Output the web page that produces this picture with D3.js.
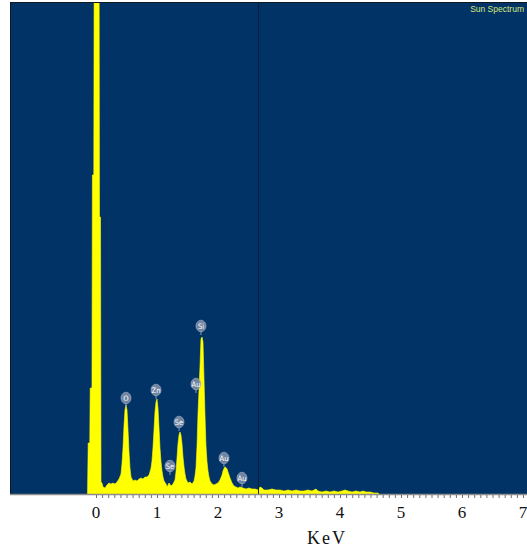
<!DOCTYPE html>
<html>
<head>
<meta charset="utf-8">
<script src="https://cdn.jsdelivr.net/npm/d3@7"></script>
<style>
  body { margin: 0; background: #ffffff; }
  svg { display: block; }
</style>
</head>
<body>
<div id="chart"></div>
<script>
// spectrum (energy in keV, counts)
var energy = [-0.139, -0.128, -0.102, -0.095, -0.066, -0.059, -0.036, -0.028, 0.049, 0.057, 0.074, 0.082,
  0.098, 0.115, 0.148, 0.180, 0.213, 0.246, 0.279, 0.311, 0.344, 0.377,
  0.410, 0.426, 0.443, 0.459, 0.475, 0.492, 0.508, 0.525, 0.541, 0.557, 0.574, 0.607, 0.639, 0.672, 0.705, 0.738, 0.770, 0.803, 0.836, 0.869,
  0.885, 0.902, 0.918, 0.934, 0.951, 0.967, 0.984, 1.000, 1.016, 1.033, 1.049, 1.066, 1.082, 1.098, 1.115, 1.148, 1.164, 1.197, 1.230, 1.262,
  1.295, 1.311, 1.328, 1.344, 1.361, 1.377, 1.393, 1.410, 1.426, 1.443, 1.459, 1.475, 1.508, 1.541, 1.574,
  1.607, 1.623, 1.639, 1.656, 1.672, 1.689, 1.705, 1.721, 1.738, 1.754, 1.770, 1.787, 1.803, 1.820, 1.836, 1.852, 1.869, 1.902, 1.934, 1.967,
  2.000, 2.033, 2.066, 2.082, 2.098, 2.115, 2.131, 2.148, 2.164, 2.197, 2.230, 2.262, 2.295, 2.328, 2.361, 2.410, 2.459, 2.508, 2.557, 2.607,
  2.656, 2.689, 2.721, 2.754, 2.820, 2.885, 2.951, 3.016, 3.082, 3.148, 3.213, 3.279, 3.344, 3.410, 3.475, 3.541, 3.607, 3.639, 3.705, 3.770,
  3.836, 3.902, 3.967, 4.033, 4.082, 4.131, 4.197, 4.262, 4.328, 4.377, 4.426, 4.492, 4.557, 4.623, 4.639];

var counts = [0, 255, 255, 530, 530, 1595, 1595, 3000, 3000, 1385, 1385, 60,
  55, 35, 30, 45, 55, 50, 55, 50, 60, 75,
  100, 150, 230, 340, 420, 445, 420, 320, 210, 130, 85, 65, 70, 65, 75, 80, 75, 85, 85, 95,
  110, 130, 165, 230, 320, 410, 460, 475, 430, 330, 230, 160, 115, 85, 65, 50, 35, 55, 40, 50,
  70, 110, 180, 250, 295, 310, 295, 250, 185, 135, 100, 75, 55, 60, 50,
  65, 90, 130, 240, 400, 520, 640, 775, 785, 760, 580, 390, 240, 160, 115, 85, 65, 50, 45, 50,
  55, 70, 95, 115, 128, 135, 132, 125, 110, 80, 55, 40, 35, 30, 35, 30, 25, 30, 25, 25,
  20, 35, 30, 20, 20, 25, 20, 20, 15, 20, 15, 20, 15, 15, 20, 15, 25, 15, 10, 15,
  10, 15, 10, 15, 20, 15, 10, 15, 10, 15, 10, 10, 5, 5, 0];

// element markers
var peakNames = ["O", "Zn", "Se", "Se", "Si", "Au", "Au", "Au"];
var peakKeV = [0.492, 0.984, 1.361, 1.213, 1.721, 1.639, 2.098, 2.393];
var peakCounts = [480, 520, 360, 140, 840, 550, 180, 80];

var tickLabels = [0, 1, 2, 3, 4, 5, 6, 7];
var markerKeV = 2.656;
var spectrumName = "Sun Spectrum";
var axisTitle = "KeV";

var width = 527, height = 552;
var plot = { left: 10, top: 2, right: 527, bottom: 494 };

var svg = d3.select("#chart").append("svg")
    .attr("width", width)
    .attr("height", height);

var x = d3.scaleLinear()
    .domain([0, 7])
    .range([96, 96 + 7 * 61]);

var y = d3.scaleLinear()
    .domain([0, 2460])
    .range([plot.bottom, plot.top]);

svg.append("clipPath")
    .attr("id", "clip")
    .append("rect")
    .attr("x", plot.left)
    .attr("y", plot.top)
    .attr("width", plot.right - plot.left)
    .attr("height", plot.bottom - plot.top);

// background
svg.append("rect")
    .attr("x", plot.left)
    .attr("y", plot.top)
    .attr("width", plot.right - plot.left)
    .attr("height", plot.bottom - plot.top)
    .attr("fill", "#023366");

var area_g = svg.append("g").attr("clip-path", "url(#clip)");

var data = energy.map(function (e, i) { return { e: e, c: counts[i] }; });

var area = d3.area()
    .x(function (d) { return x(d.e); })
    .y0(y(0))
    .y1(function (d) { return y(d.c); });

area_g.append("path")
    .datum(data)
    .attr("d", area)
    .attr("fill", "#ffff00")
    .attr("stroke", "#ffff00")
    .attr("stroke-width", 0.6);

// marker line
area_g.append("line")
    .attr("x1", x(markerKeV) + 0.5)
    .attr("x2", x(markerKeV) + 0.5)
    .attr("y1", plot.top)
    .attr("y2", plot.bottom)
    .attr("stroke", "#0c1c36")
    .attr("stroke-width", 1);

// frame (top + left)
svg.append("line")
    .attr("x1", plot.left).attr("x2", plot.right)
    .attr("y1", plot.top + 0.5).attr("y2", plot.top + 0.5)
    .attr("stroke", "#101820");
svg.append("line")
    .attr("x1", plot.left + 0.5).attr("x2", plot.left + 0.5)
    .attr("y1", plot.top).attr("y2", plot.bottom)
    .attr("stroke", "#101820");

// peak labels
var labels = area_g.selectAll(".peak")
    .data(peakNames)
    .enter()
    .append("g")
    .attr("class", "peak")
    .attr("transform", function (d, i) {
        return "translate(" + x(peakKeV[i]) + "," + y(peakCounts[i]) + ")";
    });

labels.append("line")
    .attr("x1", 0).attr("x2", 0)
    .attr("y1", 5).attr("y2", 9)
    .attr("stroke", "#8a9ab2")
    .attr("stroke-width", 1);

labels.append("ellipse")
    .attr("rx", 5)
    .attr("ry", 5.8)
    .attr("fill", "#7d8ea9")
    .attr("fill-opacity", 0.9)
    .attr("stroke", "#a9b6c9")
    .attr("stroke-width", 0.6);

labels.append("text")
    .attr("y", 2.5)
    .attr("text-anchor", "middle")
    .attr("fill", "#ffffff")
    .style("font-family", "'Liberation Sans Narrow', 'DejaVu Sans Condensed', sans-serif")
    .style("font-size", "7.5px")
    .text(function (d) { return d; });

// spectrum name (top right corner)
svg.append("text")
    .attr("x", 524)
    .attr("y", 12)
    .attr("text-anchor", "end")
    .attr("fill", "#d6e77c")
    .style("font-family", "'Liberation Sans Narrow', sans-serif")
    .style("font-size", "8.5px")
    .text(spectrumName);

// x axis
svg.append("line")
    .attr("x1", plot.left).attr("x2", plot.right)
    .attr("y1", plot.bottom + 0.5).attr("y2", plot.bottom + 0.5)
    .attr("stroke", "#8c8c8c")
    .attr("stroke-width", 1.5);

var minor = d3.range(0, 70.5, 1).map(function (v) { return v / 10; });
svg.append("g")
    .attr("transform", "translate(0," + (plot.bottom + 1) + ")")
    .call(d3.axisBottom(x).tickValues(minor).tickSize(3).tickFormat(""))
    .call(function (g) {
        g.select(".domain").remove();
        g.selectAll(".tick line").attr("stroke", "#707070");
    });

svg.append("g")
    .selectAll("text")
    .data(tickLabels)
    .enter()
    .append("text")
    .attr("x", function (d) { return x(d); })
    .attr("y", 518)
    .attr("text-anchor", "middle")
    .attr("fill", "#111111")
    .style("font-family", "'Liberation Serif', 'Times New Roman', serif")
    .style("font-size", "17px")
    .text(function (d) { return d; });

svg.append("text")
    .attr("x", 327)
    .attr("y", 544)
    .attr("text-anchor", "middle")
    .attr("fill", "#111111")
    .style("font-family", "'Liberation Serif', 'Times New Roman', serif")
    .style("font-size", "18px")
    .style("letter-spacing", "2px")
    .text(axisTitle);
</script>
</body>
</html>
